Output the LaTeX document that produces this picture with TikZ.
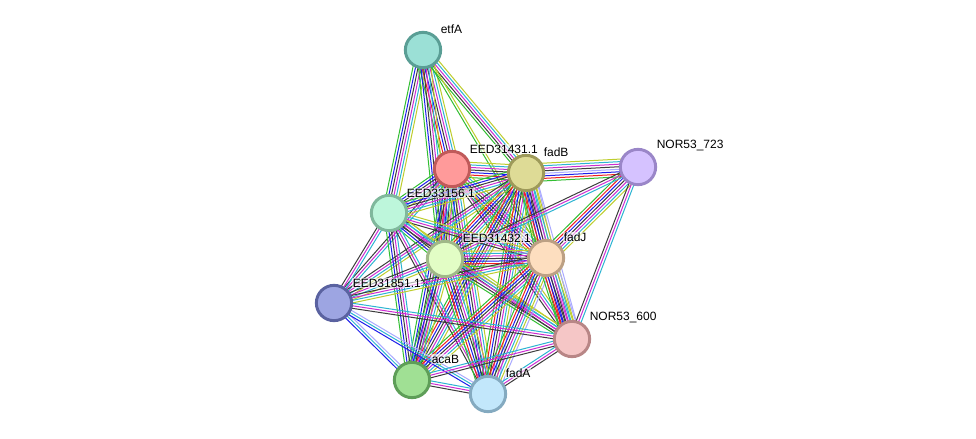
\documentclass[tikz,border=0pt]{standalone}
\usepackage{fontspec}
\setmainfont{Liberation Sans}
\usetikzlibrary{calc}
\pgfdeclarelayer{paper}
\pgfdeclarelayer{edges}
\pgfsetlayers{paper,edges,main}
\definecolor{xg}{RGB}{50,190,50}
\definecolor{xr}{RGB}{240,30,30}
\definecolor{xb}{RGB}{30,30,235}
\definecolor{xk}{RGB}{60,60,60}
\definecolor{xm}{RGB}{205,45,210}
\definecolor{xc}{RGB}{45,180,210}
\definecolor{xy}{RGB}{190,205,45}
\definecolor{xl}{RGB}{170,170,255}
\tikzset{
  prot/.style={circle,minimum size=26.5pt,inner sep=0pt,line width=2.2pt},
  lab/.style={anchor=west,font=\fontsize{9}{10}\selectfont,fill=white,fill opacity=0.6,text opacity=1,inner sep=0.4pt},
  edge/.style={line width=0.75pt}
}
\newcommand\bundle[3]{%
  \foreach \cc [count=\ii] in {#3}{\xdef\bundlen{\ii}}%
  \foreach \cc [count=\ii] in {#3}{%
    \pgfmathsetmacro\off{(\ii-(\bundlen+1)/2)*1.9}%
    \draw[edge,draw=\cc] ($(#1)!\off pt!90:(#2)$) -- ($(#2)!\off pt!-90:(#1)$);
  }%
}
\begin{document}
\begin{tikzpicture}[x=0.75pt,y=-0.75pt]
\begin{pgfonlayer}{paper}
\fill[white] (0,0) rectangle (976,439);
\end{pgfonlayer}
\useasboundingbox (0,0) rectangle (976,439);
% nodes
\node[prot,fill={rgb,255:red,155;green,224;blue,214},draw={rgb,255:red,90;green,158;blue,149}] (E) at (423,50) {};
\node[prot,fill={rgb,255:red,255;green,154;blue,154},draw={rgb,255:red,192;green,90;blue,90}] (A) at (452,169) {};
\node[prot,fill={rgb,255:red,222;green,219;blue,150},draw={rgb,255:red,158;green,154;blue,90}] (B) at (526,173) {};
\node[prot,fill={rgb,255:red,213;green,194;blue,255},draw={rgb,255:red,154;green,134;blue,200}] (M) at (638,167) {};
\node[prot,fill={rgb,255:red,189;green,246;blue,219},draw={rgb,255:red,128;green,184;blue,156}] (C) at (389,213) {};
\node[prot,fill={rgb,255:red,226;green,253;blue,197},draw={rgb,255:red,160;green,184;blue,136}] (D) at (445,259) {};
\node[prot,fill={rgb,255:red,253;green,222;blue,191},draw={rgb,255:red,188;green,160;blue,132}] (J) at (546,258) {};
\node[prot,fill={rgb,255:red,157;green,165;blue,226},draw={rgb,255:red,90;green,98;blue,160}] (F) at (334,303) {};
\node[prot,fill={rgb,255:red,245;green,198;blue,198},draw={rgb,255:red,184;green,134;blue,134}] (N) at (572,339) {};
\node[prot,fill={rgb,255:red,160;green,224;blue,148},draw={rgb,255:red,94;green,158;blue,88}] (K) at (412,380) {};
\node[prot,fill={rgb,255:red,194;green,231;blue,251},draw={rgb,255:red,132;green,170;blue,192}] (H) at (488,394) {};
% edges
\begin{pgfonlayer}{edges}
\bundle{E}{C}{xg,xb,xk,xm,xc,xy}
\bundle{E}{A}{xg,xr,xb,xk,xm,xc,xy}
\bundle{E}{D}{xg,xb,xk,xm,xc,xy}
\bundle{E}{B}{xg,xk,xm,xc,xy}
\bundle{E}{J}{xg,xy}
\bundle{A}{B}{xg,xr,xb,xk,xm,xc,xy}
\bundle{A}{C}{xg,xb,xk,xm,xc,xy}
\bundle{A}{D}{xg,xr,xb,xk,xm,xc,xy}
\bundle{A}{J}{xg,xr,xb,xk,xm,xc,xy}
\bundle{A}{F}{xk,xm,xc}
\bundle{A}{K}{xg,xb,xk,xm,xc,xy}
\bundle{A}{H}{xg,xb,xk,xm,xc,xy}
\bundle{A}{N}{xk,xm,xc,xy}
\bundle{B}{M}{xg,xr,xb,xl,xk,xm,xc,xy}
\bundle{B}{C}{xg,xb,xk,xm,xc,xy}
\bundle{B}{D}{xg,xr,xb,xk,xm,xc,xy}
\bundle{B}{J}{xg,xr,xb,xk,xm,xc,xy,xl}
\bundle{B}{F}{xk,xm,xc,xy}
\bundle{B}{K}{xg,xr,xb,xk,xm,xc,xy}
\bundle{B}{H}{xg,xr,xb,xk,xm,xc,xy,xl}
\bundle{B}{N}{xg,xr,xb,xk,xm,xc,xy,xl}
\bundle{M}{J}{xg,xr,xb,xk,xm,xc,xy}
\bundle{M}{D}{xk,xm,xc}
\bundle{M}{N}{xk,xm,xc}
\bundle{C}{D}{xg,xb,xk,xm,xc,xy}
\bundle{C}{J}{xk,xm,xc,xy}
\bundle{C}{F}{xk,xm,xc}
\bundle{C}{K}{xg,xb,xk,xm,xc}
\bundle{C}{H}{xk,xm,xc}
\bundle{C}{N}{xk,xm,xc,xy}
\bundle{D}{J}{xg,xr,xb,xk,xm,xc,xy}
\bundle{D}{F}{xk,xm,xc,xy}
\bundle{D}{K}{xg,xb,xk,xm,xc,xy}
\bundle{D}{H}{xg,xr,xb,xk,xm,xc,xy}
\bundle{D}{N}{xg,xk,xm,xc,xy}
\bundle{J}{F}{xk,xm,xc,xy}
\bundle{J}{K}{xg,xr,xb,xk,xm,xc,xy}
\bundle{J}{H}{xg,xr,xb,xk,xm,xc,xy,xl}
\bundle{J}{N}{xg,xr,xb,xk,xm,xc,xy,xl}
\bundle{F}{K}{xb,xc,xl}
\bundle{F}{H}{xb,xc,xl}
\bundle{F}{N}{xk,xm,xc}
\bundle{K}{H}{xk,xm,xc}
\bundle{K}{N}{xk,xm,xc}
\bundle{H}{N}{xk,xm,xc}
\end{pgfonlayer}
% labels
\node[lab] (lE) at (440,29) {etfA};
\node[lab] (lA) at (469,149) {EED31431.1};
\node[lab] (lB) at (543,152) {fadB};
\node[lab] (lM) at (656,146) {NOR53\_723};
\node[lab] (lC) at (406,193) {EED33156.1};
\node[lab] (lD) at (462,238) {EED31432.1};
\node[lab] (lJ) at (563,237) {fadJ};
\node[lab] (lF) at (352,283) {EED31851.1};
\node[lab] (lN) at (589,318) {NOR53\_600};
\node[lab] (lK) at (431,359) {acaB};
\node[lab] (lH) at (505,373) {fadA};
\end{tikzpicture}
\end{document}
